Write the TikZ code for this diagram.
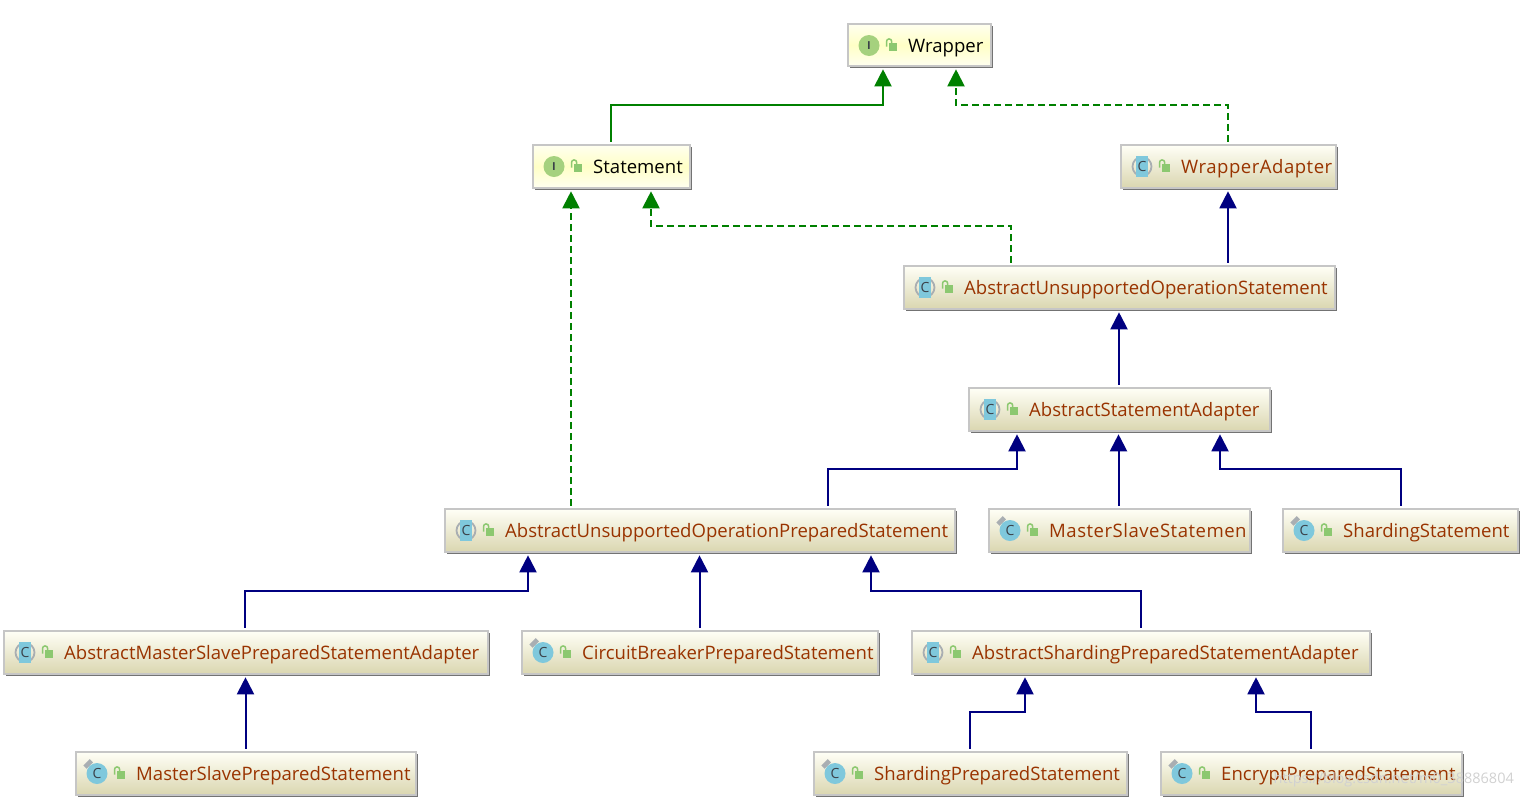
\documentclass[tikz,border=0pt]{standalone}
\usepackage{fontspec}
\setmainfont{Open Sans}
\newfontfamily\spacedfont[LetterSpace=2.7]{Open Sans}
\usetikzlibrary{arrows.meta,shadings,shadows}
\definecolor{implgreen}{HTML}{008000}
\definecolor{extnavy}{HTML}{000080}
\definecolor{classtext}{HTML}{993300}
\definecolor{iconblue}{HTML}{7FC8DC}
\definecolor{icongreen}{HTML}{A5D17E}
\definecolor{lockgreen}{HTML}{8CC870}
\definecolor{icongray}{HTML}{A9AEB2}
\definecolor{letter}{HTML}{3A4048}
\definecolor{classtop}{HTML}{FFFFF6}
\definecolor{classbottom}{HTML}{DAD6B0}
\definecolor{ifacetop}{HTML}{FFFFF0}
\definecolor{ifacemid}{HTML}{FFFFC6}
\definecolor{boxedge}{HTML}{C6C6C6}
\tikzset{
  x=1pt,y=-1pt,
  boxbase/.style={draw=boxedge,line width=1.5pt,anchor=north west,inner sep=0pt,
    drop shadow={shadow xshift=1.8pt,shadow yshift=-1.8pt,fill=black!55,opacity=1}},
  ifacebox/.style={boxbase,top color=ifacetop,bottom color=ifacetop,middle color=ifacemid},
  classbox/.style={boxbase,top color=classtop,bottom color=classbottom},
  extends/.style={draw=extnavy,line width=2pt,-{Triangle[length=17pt,width=17pt]}},
  implements/.style={draw=implgreen,line width=2pt,-{Triangle[length=17pt,width=17pt]}},
  realizes/.style={implements,dash pattern=on 7pt off 4pt},
  label/.style={anchor=base west,inner sep=0pt,font=\fontsize{18.55}{21}\selectfont},
}
% open padlock shown after each kind icon
\newcommand{\lockicon}[2]{%
  \fill[lockgreen] (#1-2.5,#2-2.5) rectangle (#1+5.5,#2+5.5);
  \draw[lockgreen,line width=1.5pt] (#1-5,#2+1) -- (#1-5,#2-4) arc[start angle=180,end angle=0,x radius=2.6,y radius=-2.6] -- (#1+.2,#2-2.5);
}
% interface icon
\newcommand{\ifaceicon}[2]{%
  \fill[icongreen] (#1,#2) circle[radius=10.5];
  \node[inner sep=0pt,text=letter,font=\rmfamily\bfseries\fontsize{11}{11}\selectfont] at (#1,#2) {I};
}
% plain class icon with a pin at the upper left
\newcommand{\leaficon}[2]{%
  \fill[icongray,rotate around={45:(#1-9,#2-9)}] (#1-13,#2-11.5) rectangle (#1-4,#2-7);
  \fill[iconblue] (#1,#2) circle[radius=10.5];
  \node[inner sep=0pt,text=letter,font=\fontsize{14}{14}\selectfont] at (#1,#2) {C};
}
% abstract class icon: blue band between grey brackets
\newcommand{\abstracticon}[2]{%
  \draw[icongray,line width=1.8pt] (#1,#2) circle[radius=9.5];
  \fill[iconblue] (#1-6,#2-10.5) rectangle (#1+6,#2+10.5);
  \node[inner sep=0pt,text=letter,font=\fontsize{14}{14}\selectfont] at (#1,#2) {C};
}
\begin{document}
\begin{tikzpicture}
\useasboundingbox (0,0) rectangle (1522,796);
\fill[white] (0,0) rectangle (1522,796);

\newcommand{\entity}[9]{%
  \pgfmathsetlengthmacro{\bw}{#4-#2}%
  \pgfmathsetlengthmacro{\bh}{#5-#3}%
  \pgfmathsetmacro{\bx}{#2-.8}\pgfmathsetmacro{\by}{#3-.8}%
  \node[#7,minimum width=\bw,minimum height=\bh] (#1) at (\bx,\by) {};
  \pgfmathsetmacro{\ix}{#2+21}\pgfmathsetmacro{\lx}{#2+43.5}\pgfmathsetmacro{\tx}{#2+60}\pgfmathsetmacro{\iy}{#3+21.5}\pgfmathsetmacro{\ty}{#3+28.2}%
  #6{\ix}{\iy}%
  \lockicon{\lx}{\iy}
  \node[label,text=#8] (#1-text) at (\tx,\ty) {#9};
}

\entity{wrapper}{848}{24}{991}{66}{\ifaceicon}{ifacebox}{black}{Wrapper}
\entity{statement}{533}{145}{690}{188}{\ifaceicon}{ifacebox}{black}{Statement}
\entity{wrapperadapter}{1121}{145}{1336}{188}{\abstracticon}{classbox}{classtext}{{\spacedfont WrapperAdapter}}
\entity{auos}{904}{266}{1335}{309}{\abstracticon}{classbox}{classtext}{AbstractUnsupportedOperationStatement}
\entity{asa}{969}{388}{1270}{431}{\abstracticon}{classbox}{classtext}{AbstractStatementAdapter}
\entity{auops}{445}{509}{955}{552}{\abstracticon}{classbox}{classtext}{AbstractUnsupportedOperationPreparedStatement}
\entity{mss}{989}{509}{1250}{552}{\leaficon}{classbox}{classtext}{{\spacedfont MasterSlaveStatemen}}
\entity{ss}{1283}{509}{1518}{552}{\leaficon}{classbox}{classtext}{ShardingStatement}
\entity{amspsa}{4}{631}{488}{674}{\abstracticon}{classbox}{classtext}{AbstractMasterSlavePreparedStatementAdapter}
\entity{cbps}{522}{631}{878}{674}{\leaficon}{classbox}{classtext}{CircuitBreakerPreparedStatement}
\entity{aspsa}{912}{631}{1370}{674}{\abstracticon}{classbox}{classtext}{AbstractShardingPreparedStatementAdapter}
\entity{msps}{76}{752}{416}{795}{\leaficon}{classbox}{classtext}{MasterSlavePreparedStatement}
\entity{shps}{814}{752}{1127}{795}{\leaficon}{classbox}{classtext}{ShardingPreparedStatement}
\entity{eps}{1161}{752}{1462}{795}{\leaficon}{classbox}{classtext}{EncryptPreparedStatement}

% interface inheritance and implementation
\draw[implements] ([xshift=78.8pt,yshift=2.5pt]statement.north west) -- ++(0,-37) -| ([xshift=35.8pt,yshift=-2.6pt]wrapper.south west);
\draw[realizes] ([xshift=107.8pt,yshift=2.5pt]wrapperadapter.north west) -- ++(0,-37) -| ([xshift=108.8pt,yshift=-2.6pt]wrapper.south west);
\draw[realizes] ([xshift=107.8pt,yshift=2.5pt]auos.north west) -- ++(0,-37) -| ([xshift=118.8pt,yshift=-2.6pt]statement.south west);
\draw[realizes] ([xshift=126.8pt,yshift=2.5pt]auops.north west) -- ([xshift=38.8pt,yshift=-2.6pt]statement.south west);

% class inheritance
\draw[extends] ([xshift=324.8pt,yshift=2.5pt]auos.north west) -- ([xshift=324.8pt,yshift=-2.6pt]auos.north west |- wrapperadapter.south);
\draw[extends] ([xshift=150.8pt,yshift=2.5pt]asa.north west) -- ([xshift=150.8pt,yshift=-2.6pt]asa.north west |- auos.south);
\draw[extends] ([xshift=383.8pt,yshift=2.5pt]auops.north west) -- ++(0,-37) -| ([xshift=48.8pt,yshift=-2.6pt]asa.south west);
\draw[extends] ([xshift=130.3pt,yshift=2.5pt]mss.north west) -- ([xshift=130.3pt,yshift=-2.6pt]mss.north west |- asa.south);
\draw[extends] ([xshift=118.3pt,yshift=2.5pt]ss.north west) -- ++(0,-37) -| ([xshift=251.8pt,yshift=-2.6pt]asa.south west);
\draw[extends] ([xshift=241.8pt,yshift=2.5pt]amspsa.north west) -- ++(0,-37) -| ([xshift=83.8pt,yshift=-2.6pt]auops.south west);
\draw[extends] ([xshift=178.3pt,yshift=2.5pt]cbps.north west) -- ([xshift=178.3pt,yshift=-2.6pt]cbps.north west |- auops.south);
\draw[extends] ([xshift=229.3pt,yshift=2.5pt]aspsa.north west) -- ++(0,-37) -| ([xshift=426.8pt,yshift=-2.6pt]auops.south west);
\draw[extends] ([xshift=170.3pt,yshift=2.5pt]msps.north west) -- ([xshift=170.3pt,yshift=-2.6pt]msps.north west |- amspsa.south);
\draw[extends] ([xshift=156.8pt,yshift=2.5pt]shps.north west) -- ++(0,-37) -| ([xshift=113.8pt,yshift=-2.6pt]aspsa.south west);
\draw[extends] ([xshift=150.8pt,yshift=2.5pt]eps.north west) -- ++(0,-37) -| ([xshift=344.8pt,yshift=-2.6pt]aspsa.south west);

\node[anchor=base east,inner sep=0pt,text=black!18,font=\fontsize{14.5}{18}\selectfont] (mark) at (1514,783) {https://blog.csdn.net/m0\_38886804};
\end{tikzpicture}
\end{document}
